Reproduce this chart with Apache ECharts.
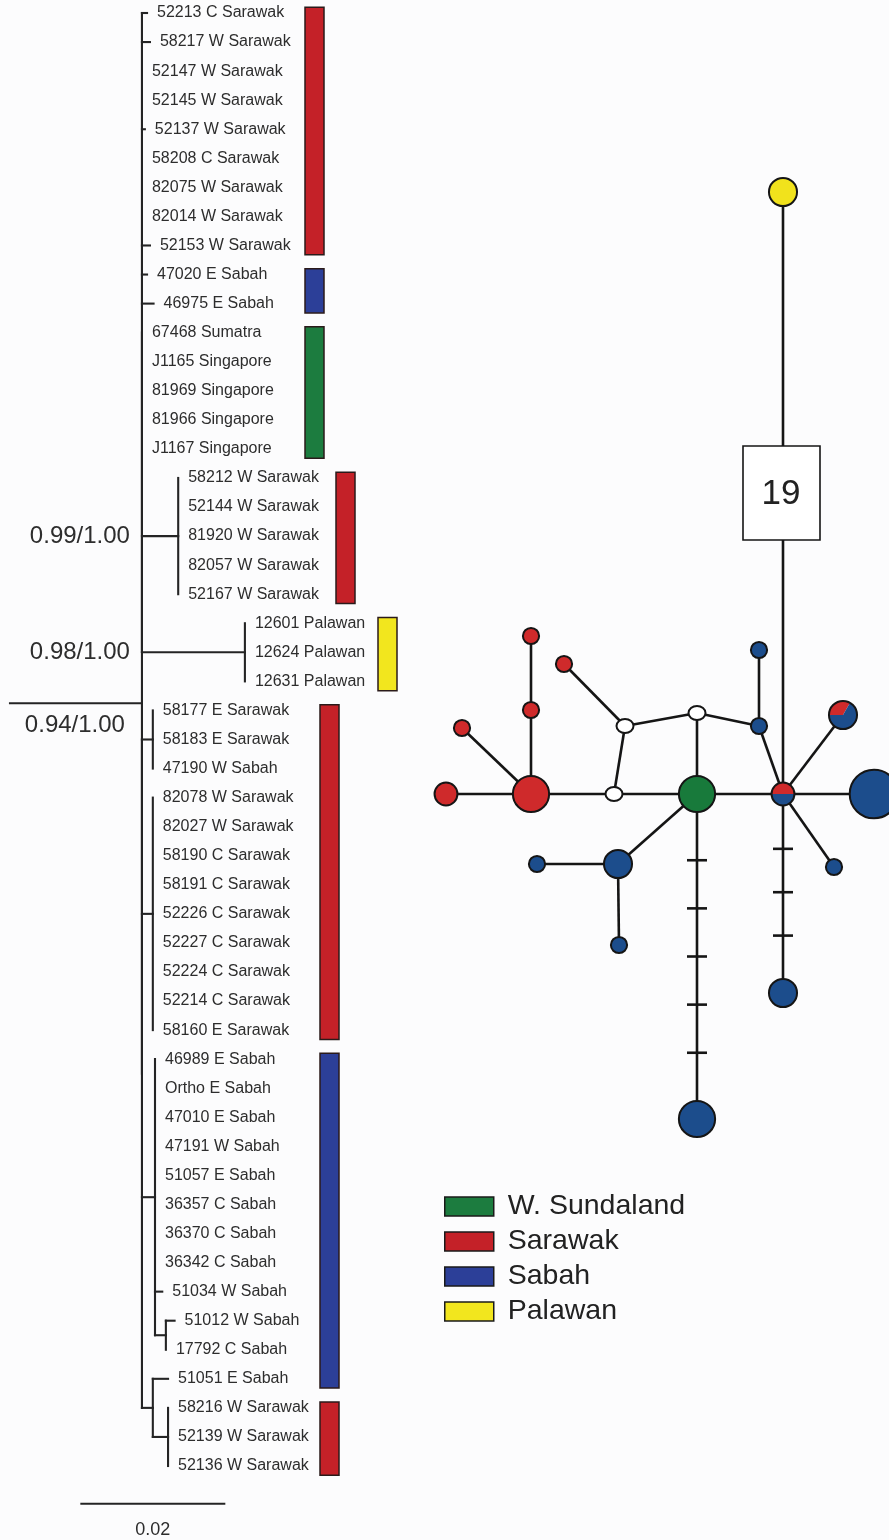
<!DOCTYPE html>
<html>
<head>
<meta charset="utf-8">
<script src="https://cdn.jsdelivr.net/npm/echarts@6/dist/echarts.min.js"></script>
<style>
html,body{margin:0;padding:0;background:#fcfcfd;}
#c{width:889px;height:1540px;}
</style>
</head>
<body>
<div id="c"></div>
<script>
// ================= DATA =================
// Tip labels, top to bottom
const taxa = [
  '52213 C Sarawak','58217 W Sarawak','52147 W Sarawak','52145 W Sarawak','52137 W Sarawak',
  '58208 C Sarawak','82075 W Sarawak','82014 W Sarawak','52153 W Sarawak',
  '47020 E Sabah','46975 E Sabah',
  '67468 Sumatra','J1165 Singapore','81969 Singapore','81966 Singapore','J1167 Singapore',
  '58212 W Sarawak','52144 W Sarawak','81920 W Sarawak','82057 W Sarawak','52167 W Sarawak',
  '12601 Palawan','12624 Palawan','12631 Palawan',
  '58177 E Sarawak','58183 E Sarawak','47190 W Sabah',
  '82078 W Sarawak','82027 W Sarawak','58190 C Sarawak','58191 C Sarawak','52226 C Sarawak',
  '52227 C Sarawak','52224 C Sarawak','52214 C Sarawak','58160 E Sarawak',
  '46989 E Sabah','Ortho E Sabah','47010 E Sabah','47191 W Sabah','51057 E Sabah',
  '36357 C Sabah','36370 C Sabah','36342 C Sabah','51034 W Sabah','51012 W Sabah','17792 C Sabah',
  '51051 E Sabah','58216 W Sarawak','52139 W Sarawak','52136 W Sarawak'
];

// Tree: leaves are [tipIndex, branchLength]; internal nodes {len, support, children}
const tree = { len: 0.0182, support: '0.94/1.00', children: [
  { len: 0, children: [
    [0,0.0007],[1,0.0011],[2,0],[3,0],[4,0.0004],[5,0],[6,0],[7,0],[8,0.0011],
    [9,0.0007],[10,0.0016],
    [11,0],[12,0],[13,0],[14,0],[15,0],
    { len: 0.0050, support: '0.99/1.00', children: [[16,0],[17,0],[18,0],[19,0],[20,0]] },
    { len: 0.0142, support: '0.98/1.00', children: [[21,0],[22,0],[23,0]] }
  ]},
  { len: 0, children: [
    { len: 0.0015, children: [[24,0],[25,0],[26,0]] },
    { len: 0.0015, children: [[27,0],[28,0],[29,0],[30,0],[31,0],[32,0],[33,0],[34,0],[35,0]] },
    { len: 0.0018, children: [[36,0],[37,0],[38,0],[39,0],[40,0],[41,0],[42,0],[43,0],[44,0.0010],
        { len: 0.0015, children: [[45,0.0012],[46,0]] } ] },
    { len: 0.0015, children: [[47,0.0021], { len: 0.0021, children: [[48,0],[49,0],[50,0]] }] }
  ]}
]};

// Region blocks beside the tips: [region, firstTip, lastTip]
const regionBlocks = [
  ['Sarawak',0,8], ['Sabah',9,10], ['W. Sundaland',11,15], ['Sarawak',16,20],
  ['Palawan',21,23], ['Sarawak',24,35], ['Sabah',36,47], ['Sarawak',48,50]
];

// Scale bar: [start, length]
const scaleBar = [0.0097, 0.02];

// Legend entries
const regions = ['W. Sundaland','Sarawak','Sabah','Palawan'];

// Haplotype network nodes: [id, x, y, composition]
const hapNodes = [
  ['R1', -251,    0, {Sarawak:2}],
  ['R2', -166,    0, {Sarawak:5}],
  ['R3', -235,  -66, {Sarawak:1}],
  ['R4', -166,  -84, {Sarawak:1}],
  ['R5', -166, -158, {Sarawak:1}],
  ['R6', -133, -130, {Sarawak:1}],
  ['M1',  -83,    0, {}],
  ['M2',  -72,  -68, {}],
  ['M3',    0,  -81, {}],
  ['G',     0,    0, {'W. Sundaland':5}],
  ['B1',   62, -144, {Sabah:1}],
  ['B2',   62,  -68, {Sabah:1}],
  ['P1',   86,    0, {Sarawak:1, Sabah:1}],
  ['P2',  146,  -79, {Sarawak:1, Sabah:2}],
  ['B3',  177,    0, {Sabah:9}],
  ['B4',  137,   73, {Sabah:1}],
  ['B5',   86,  199, {Sabah:3}],
  ['B6',  -79,   70, {Sabah:3}],
  ['B7', -160,   70, {Sabah:1}],
  ['B8',  -78,  151, {Sabah:1}],
  ['B9',    0,  325, {Sabah:5}],
  ['Y',    86, -602, {Palawan:3}]
];

// Network edges: [from, to, mutational steps]
const hapEdges = [
  ['R1','R2',1], ['R2','R3',1], ['R2','R4',1], ['R4','R5',1], ['R2','M1',1],
  ['M1','M2',1], ['M2','R6',1], ['M2','M3',1], ['M3','G',1], ['M3','B2',1],
  ['B2','B1',1], ['B2','P1',1], ['M1','G',1], ['G','P1',1], ['P1','B3',1],
  ['P1','P2',1], ['P1','B4',1], ['P1','B5',4], ['P1','Y',19], ['G','B6',1],
  ['B6','B7',1], ['B6','B8',1], ['G','B9',6]
];

// ================= STYLE / LAYOUT =================
const FONT = "'Liberation Sans', Arial, Helvetica, sans-serif";
const barColors = {'W. Sundaland':'#1c7c3f','Sarawak':'#c42128','Sabah':'#2c3f98','Palawan':'#f2e61e'};
const netColors = {'W. Sundaland':'#187a3b','Sarawak':'#cf2a2b','Sabah':'#1c4d8c','Palawan':'#f1e21c'};
const barColumnPx = [305, 305, 305, 336, 378, 320, 320, 320];
const LINE = '#242424';
const TXT = '#2d2d2d';

// ================= TREE LAYOUT =================
const segs = [];
const leafPos = [];
const supports = [];
function layout(node, parentX, isRoot) {
  if (Array.isArray(node)) {
    const x = parentX + node[1];
    const y = node[0];
    if (node[1] > 0) segs.push([parentX, y, x, y]);
    leafPos.push([x, y, node[0]]);
    return y;
  }
  const x = parentX + node.len;
  const ys = node.children.map(c => layout(c, x, false));
  const y = (ys[0] + ys[ys.length - 1]) / 2;
  segs.push([x, ys[0], x, ys[ys.length - 1]]);
  if (node.len > 0) segs.push([parentX, y, x, y]);
  if (node.support) supports.push([parentX, y, x, isRoot ? 1 : 0, node.support]);
  return y;
}
layout(tree, 0, true);

const nodeById = {};
hapNodes.forEach(n => { nodeById[n[0]] = n; });
function nodeTotal(n) { return Object.values(n[3]).reduce((a, b) => a + b, 0); }
function nodeRadius(n) { const t = nodeTotal(n); return t === 0 ? 7.5 : 8.1 * Math.sqrt(t); }

// ================= CHART =================
const chart = echarts.init(document.getElementById('c'), null, {width: 889, height: 1540});

const option = {
  animation: false,
  backgroundColor: '#fcfcfd',
  textStyle: { fontFamily: FONT },
  grid: [
    { left: 10, top: 13, width: 435, height: 52 * 29.06 },
    { left: 420, top: 150, width: 469, height: 1000 }
  ],
  xAxis: [
    { gridIndex: 0, type: 'value', min: 0, max: 0.06, show: false },
    { gridIndex: 1, type: 'value', min: -277, max: 192, show: false }
  ],
  yAxis: [
    { gridIndex: 0, type: 'value', min: 0, max: 52, inverse: true, show: false },
    { gridIndex: 1, type: 'value', min: -644, max: 356, inverse: true, show: false }
  ],
  legend: {
    data: regions.map(name => ({ name: name, itemStyle: { color: barColors[name], opacity: 1 } })),
    orient: 'vertical',
    left: 444,
    top: 1192,
    padding: 0,
    itemWidth: 49,
    itemHeight: 19,
    itemGap: 6,
    icon: 'rect',
    selectedMode: false,
    itemStyle: { borderColor: '#1a1a1a', borderWidth: 1.5, opacity: 1 },
    textStyle: { fontSize: 28.5, color: '#222', fontFamily: FONT, lineHeight: 29, padding: [0, 0, 0, 9] }
  },
  series: [
    // tree branches
    {
      type: 'custom', xAxisIndex: 0, yAxisIndex: 0, clip: false, silent: true,
      data: segs,
      renderItem: (params, api) => {
        const p1 = api.coord([api.value(0), api.value(1)]);
        const p2 = api.coord([api.value(2), api.value(3)]);
        return { type: 'line', shape: { x1: p1[0], y1: p1[1], x2: p2[0], y2: p2[1] },
                 style: { stroke: LINE, lineWidth: 2.1, lineCap: 'square' } };
      }
    },
    // tip labels
    {
      type: 'custom', xAxisIndex: 0, yAxisIndex: 0, clip: false, silent: true,
      data: leafPos,
      renderItem: (params, api) => {
        const p = api.coord([api.value(0), api.value(1)]);
        return { type: 'text', style: { text: taxa[api.value(2)], x: p[0] + 10, y: p[1],
                 align: 'left', verticalAlign: 'middle', fontSize: 16, fill: TXT, fontFamily: FONT } };
      }
    },
    // support values
    {
      type: 'custom', xAxisIndex: 0, yAxisIndex: 0, clip: false, silent: true,
      data: supports.map((s, i) => [s[0], s[1], s[2], s[3], i]),
      renderItem: (params, api) => {
        const s = supports[api.value(4)];
        let x, y;
        if (s[3]) {
          const p = api.coord([s[2], s[1]]);
          x = p[0] - 17; y = p[1] + 22;
        } else {
          const p = api.coord([s[0], s[1]]);
          x = p[0] - 12; y = p[1];
        }
        return { type: 'text', style: { text: s[4], x: x, y: y, align: 'right', verticalAlign: 'middle',
                 fontSize: 24, fill: TXT, fontFamily: FONT } };
      }
    },
    // region bars
    {
      type: 'custom', xAxisIndex: 0, yAxisIndex: 0, clip: false, silent: true,
      data: regionBlocks.map((b, i) => [0, b[1], b[2], i]),
      renderItem: (params, api) => {
        const i = api.value(3);
        const top = api.coord([0, api.value(1) - 0.2])[1];
        const bot = api.coord([0, api.value(2) + 0.32])[1];
        return { type: 'rect', shape: { x: barColumnPx[i], y: top, width: 19, height: bot - top },
                 style: { fill: barColors[regionBlocks[i][0]], stroke: '#2a1a1a', lineWidth: 1.5 } };
      }
    },
    // scale bar
    {
      type: 'custom', xAxisIndex: 0, yAxisIndex: 0, clip: false, silent: true,
      data: [[scaleBar[0], 51.3, scaleBar[1]]],
      renderItem: (params, api) => {
        const p1 = api.coord([api.value(0), api.value(1)]);
        const p2 = api.coord([api.value(0) + api.value(2), api.value(1)]);
        return { type: 'group', children: [
          { type: 'line', shape: { x1: p1[0], y1: p1[1], x2: p2[0], y2: p2[1] }, style: { stroke: LINE, lineWidth: 2 } },
          { type: 'text', style: { text: String(api.value(2)), x: (p1[0] + p2[0]) / 2, y: p1[1] + 26,
            align: 'center', verticalAlign: 'middle', fontSize: 18, fill: TXT, fontFamily: FONT } }
        ]};
      }
    },
    // network edges
    {
      type: 'custom', xAxisIndex: 1, yAxisIndex: 1, clip: false, silent: true,
      data: hapEdges.map((e, i) => [nodeById[e[0]][1], nodeById[e[0]][2], nodeById[e[1]][1], nodeById[e[1]][2], e[2], i]),
      renderItem: (params, api) => {
        const e = hapEdges[api.value(5)];
        const a = nodeById[e[0]], b = nodeById[e[1]];
        const p1 = api.coord([api.value(0), api.value(1)]);
        const p2 = api.coord([api.value(2), api.value(3)]);
        const children = [{ type: 'line', shape: { x1: p1[0], y1: p1[1], x2: p2[0], y2: p2[1] },
                            style: { stroke: '#151515', lineWidth: 2.6 } }];
        const steps = api.value(4);
        const dx = p2[0] - p1[0], dy = p2[1] - p1[1];
        const L = Math.hypot(dx, dy), ux = dx / L, uy = dy / L;
        if (steps > 10) {
          const mx = (p1[0] + p2[0]) / 2, my = (p1[1] + p2[1]) / 2;
          children.push({ type: 'rect', shape: { x: mx - 40, y: my - 47, width: 77, height: 94 },
                          style: { fill: '#ffffff', stroke: '#151515', lineWidth: 1.6 } });
          children.push({ type: 'text', style: { text: String(steps), x: mx - 2, y: my + 1, align: 'center',
                          verticalAlign: 'middle', fontSize: 35, fill: '#222', fontFamily: FONT } });
        } else if (steps > 1) {
          const ra = nodeRadius(a), rb = nodeRadius(b);
          const span = L - ra - rb;
          for (let k = 1; k < steps; k++) {
            const d = ra + span * k / steps;
            const cx = p1[0] + ux * d, cy = p1[1] + uy * d;
            children.push({ type: 'line', shape: { x1: cx - uy * 10, y1: cy + ux * 10, x2: cx + uy * 10, y2: cy - ux * 10 },
                            style: { stroke: '#151515', lineWidth: 2.6 } });
          }
        }
        return { type: 'group', children: children };
      }
    },
    // network nodes
    {
      type: 'custom', xAxisIndex: 1, yAxisIndex: 1, clip: false, silent: true,
      data: hapNodes.map((n, i) => [n[1], n[2], i]),
      renderItem: (params, api) => {
        const n = hapNodes[api.value(2)];
        const c = api.coord([api.value(0), api.value(1)]);
        const total = nodeTotal(n);
        if (total === 0) {
          return { type: 'ellipse', shape: { cx: c[0], cy: c[1], rx: 8.5, ry: 7 },
                   style: { fill: '#ffffff', stroke: '#151515', lineWidth: 2 } };
        }
        const r = nodeRadius(n);
        const keys = Object.keys(n[3]);
        if (keys.length === 1) {
          return { type: 'circle', shape: { cx: c[0], cy: c[1], r: r },
                   style: { fill: netColors[keys[0]], stroke: '#151515', lineWidth: 2 } };
        }
        const children = [];
        let ang = Math.PI;
        keys.forEach(k => {
          const sweep = 2 * Math.PI * n[3][k] / total;
          children.push({ type: 'sector', shape: { cx: c[0], cy: c[1], r: r, r0: 0, startAngle: ang, endAngle: ang + sweep, clockwise: true },
                          style: { fill: netColors[k] } });
          ang += sweep;
        });
        children.push({ type: 'circle', shape: { cx: c[0], cy: c[1], r: r },
                        style: { fill: 'none', stroke: '#151515', lineWidth: 2 } });
        return { type: 'group', children: children };
      }
    },
    // legend carriers
    ...regions.map(name => ({
      name: name, type: 'scatter', xAxisIndex: 1, yAxisIndex: 1, data: [],
      itemStyle: { color: barColors[name], opacity: 1 }
    }))
  ]
};
chart.setOption(option);
</script>
</body>
</html>
